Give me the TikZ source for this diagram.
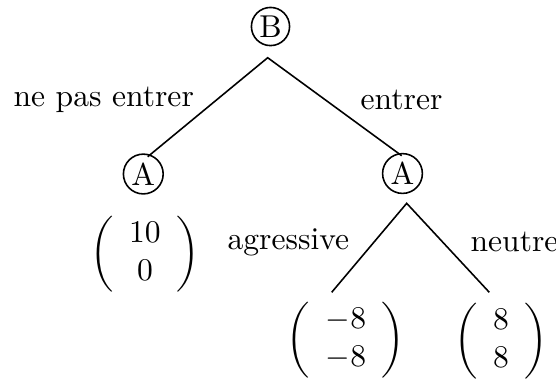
\documentclass[tikz,border=0pt]{standalone}
\begin{document}
\begin{tikzpicture}[x=0.3165pt,y=-0.3165pt,
  player/.style={draw,circle,inner sep=0.8pt,line width=0.5pt},
  edge/.style={line width=0.5pt},
  lbl/.style={anchor=base west,inner sep=0pt},
  payoff/.style={inner sep=0pt}]
\useasboundingbox (0,0) rectangle (556,381);
\node[player] (B) at (270.5,26.5) {B};
\node[player] (A1) at (143.3,174) {A};
\node[player] (A2) at (402.5,173.5) {A};
\node[payoff] (V1) at (145,254) {$\left(\begin{array}{c}10\\0\end{array}\right)$};
\node[payoff] (V2) at (346,340) {$\left(\begin{array}{c}-8\\-8\end{array}\right)$};
\node[payoff] (V3) at (501,341) {$\left(\begin{array}{c}8\\8\end{array}\right)$};
\coordinate (apexB) at (267.7,57.7);
\coordinate (endL) at (147.7,156.7);
\coordinate (endR) at (401.7,155.7);
\coordinate (apexA) at (406.7,203.3);
\coordinate (endLL) at (331.7,292.3);
\coordinate (endLR) at (489.3,292.3);
\draw[edge] (endL) -- (apexB) -- (endR);
\draw[edge] (endLL) -- (apexA) -- (endLR);
\node[lbl] (l1) at (13,106) {ne pas entrer};
\node[lbl] (l2) at (360,109) {entrer};
\node[lbl] (l3) at (227,249) {agressive};
\node[lbl] (l4) at (470,251) {neutre};
\end{tikzpicture}
\end{document}
